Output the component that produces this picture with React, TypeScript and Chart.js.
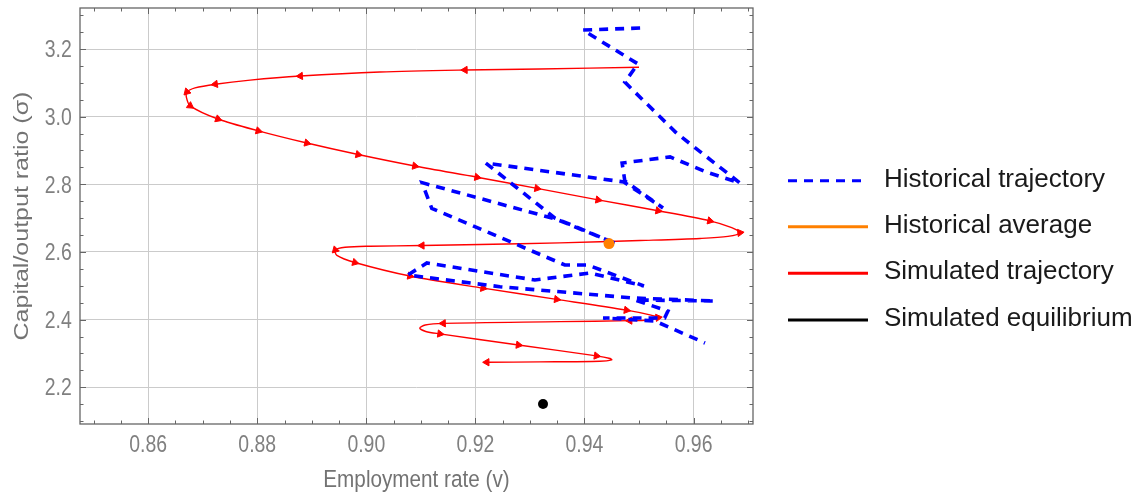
import React, { useEffect, useRef } from "react";
import { Chart, registerables } from "chart.js";

Chart.register(...registerables);

// ---------------- data ----------------
// Historical trajectory (employment rate v, capital/output ratio sigma)
const histV = [
  0.9502, 0.9397, 0.9498, 0.9474, 0.9569, 0.9685, 0.9624, 0.9557, 0.9469, 0.9474,
  0.9544, 0.9472, 0.9219, 0.9346, 0.9459, 0.9348, 0.9102, 0.9120, 0.9364, 0.9406,
  0.9509, 0.9410, 0.9309, 0.9111, 0.9076, 0.9245, 0.9489, 0.9639, 0.9492, 0.9553,
  0.9547, 0.9434, 0.9529, 0.9621,
];
const histS = [
  3.262, 3.256, 3.156, 3.102, 2.951, 2.804, 2.836, 2.881, 2.863, 2.810,
  2.730, 2.807, 2.863, 2.700, 2.624, 2.697, 2.805, 2.729, 2.5615, 2.5615,
  2.4994, 2.5378, 2.5172, 2.5674, 2.5319, 2.4973, 2.464, 2.4551, 2.4581, 2.4255,
  2.4048, 2.4048, 2.396, 2.3309,
];

// Simulated trajectory
const simV = [
  0.9500, 0.9318, 0.9181, 0.9025, 0.8879, 0.8787, 0.8723, 0.8686, 0.8671, 0.8670,
  0.8677, 0.8728, 0.8802, 0.8891, 0.8985, 0.9089, 0.9203, 0.9313, 0.9425, 0.9535,
  0.9630, 0.9670, 0.9685, 0.9663, 0.9612, 0.9502, 0.9355, 0.9208, 0.9102, 0.9007,
  0.8961, 0.8943, 0.8946, 0.8979, 0.9080, 0.9214, 0.9349, 0.9477, 0.9520, 0.9535,
  0.9516, 0.9483, 0.9355, 0.9141, 0.9108, 0.9098, 0.9109, 0.9135, 0.9279, 0.9422,
  0.9447, 0.9450, 0.9428, 0.9318, 0.9221,
];
const simS = [
  3.146, 3.141, 3.138, 3.132, 3.120, 3.108, 3.096, 3.085, 3.073, 3.058,
  3.032, 2.993, 2.958, 2.922, 2.888, 2.854, 2.821, 2.788, 2.754, 2.722,
  2.692, 2.672, 2.657, 2.646, 2.640, 2.634, 2.627, 2.622, 2.619, 2.617,
  2.614, 2.606, 2.590, 2.569, 2.529, 2.493, 2.460, 2.428, 2.414, 2.406,
  2.399, 2.397, 2.394, 2.389, 2.384, 2.375, 2.365, 2.358, 2.325, 2.293,
  2.285, 2.281, 2.277, 2.275, 2.274,
];
// arrowheads along the simulated trajectory
const simArrow = [
  0, 0, 1, 0, 1, 0, 1, 0, 1, 0,
  1, 1, 1, 1, 1, 1, 1, 1, 1, 1,
  1, 0, 1, 0, 0, 0, 0, 0, 1, 0,
  0, 1, 0, 1, 1, 1, 1, 1, 0, 1,
  0, 1, 0, 1, 0, 0, 0, 1, 1, 1,
  0, 0, 0, 0, 1,
];

const avgV = [0.9445];
const avgS = [2.625];
const eqV = [0.9324];
const eqS = [2.1506];

const xTicks = [0.86, 0.88, 0.9, 0.92, 0.94, 0.96];
const xTickLabels = ["0.86", "0.88", "0.90", "0.92", "0.94", "0.96"];
const yTicks = [2.2, 2.4, 2.6, 2.8, 3.0, 3.2];
const yTickLabels = ["2.2", "2.4", "2.6", "2.8", "3.0", "3.2"];
const xRange = [0.8475, 0.9709];
const yRange = [2.0915, 3.3212];

const xTitle = "Employment rate (v)";
const yTitle = "Capital/output ratio (\u03c3)";
const legendLabels = [
  "Historical trajectory",
  "Historical average",
  "Simulated trajectory",
  "Simulated equilibrium",
];

const BLUE = "#0000ff";
const ORANGE = "#ff8000";
const RED = "#ff0000";
const BLACK = "#000000";
const AXIS_FONT = "'Liberation Sans', Arial, sans-serif";
const SQUEEZE = 0.845;

const toPts = (xs: number[], ys: number[]) => xs.map((x, i) => ({ x, y: ys[i] }));

const framePlugin = {
  id: "mmaFrame",
  afterDatasetsDraw(chart: any) {
    const { ctx, chartArea: a, scales } = chart;
    const xs = scales.x;
    const ys = scales.y;
    ctx.save();
    ctx.strokeStyle = "#666666";
    ctx.lineWidth = 1.3;
    ctx.strokeRect(a.left, a.top, a.right - a.left, a.bottom - a.top);
    ctx.lineWidth = 1;
    ctx.beginPath();
    for (let k = 170; k <= 194; k++) {
      const v = k * 0.005;
      const px = Math.round(xs.getPixelForValue(v)) + 0.5;
      if (px < a.left + 1 || px > a.right - 1) continue;
      const major = k % 4 === 0;
      const len = major ? 6 : 3.5;
      ctx.moveTo(px, a.bottom);
      ctx.lineTo(px, a.bottom - len);
      ctx.moveTo(px, a.top);
      ctx.lineTo(px, a.top + len);
    }
    for (let k = 42; k <= 66; k++) {
      const v = k * 0.05;
      const py = Math.round(ys.getPixelForValue(v)) + 0.5;
      if (py < a.top + 1 || py > a.bottom - 1) continue;
      const major = k % 4 === 0;
      const len = major ? 6 : 3.5;
      ctx.moveTo(a.left, py);
      ctx.lineTo(a.left + len, py);
      ctx.moveTo(a.right, py);
      ctx.lineTo(a.right - len, py);
    }
    ctx.stroke();

    // tick labels and axis titles (narrow rendering, as in the reference)
    ctx.fillStyle = "#808080";
    ctx.font = `23px ${AXIS_FONT}`;
    ctx.textBaseline = "alphabetic";
    xTicks.forEach((v, i) => {
      const px = xs.getPixelForValue(v);
      ctx.save();
      ctx.translate(px, a.bottom + 27.5);
      ctx.scale(SQUEEZE, 1);
      ctx.textAlign = "center";
      ctx.fillText(xTickLabels[i], 0, 0);
      ctx.restore();
    });
    yTicks.forEach((v, i) => {
      const py = ys.getPixelForValue(v);
      ctx.save();
      ctx.translate(a.left - 8.3, py + 8.2);
      ctx.scale(SQUEEZE, 1);
      ctx.textAlign = "right";
      ctx.fillText(yTickLabels[i], 0, 0);
      ctx.restore();
    });
    ctx.fillStyle = "#737373";
    ctx.font = `24.5px ${AXIS_FONT}`;
    ctx.save();
    ctx.translate((a.left + a.right) / 2, 487);
    ctx.scale(SQUEEZE, 1);
    ctx.textAlign = "center";
    ctx.fillText(xTitle, 0, 0);
    ctx.restore();
    ctx.save();
    ctx.translate(27.5, (a.top + a.bottom) / 2);
    ctx.scale(SQUEEZE, 1);
    ctx.rotate(-Math.PI / 2);
    ctx.textAlign = "center";
    ctx.font = `25px ${AXIS_FONT}`;
    ctx.fillText(yTitle, 0, 0);
    ctx.restore();
    ctx.restore();
  },
};

export default function App() {
  const ref = useRef<HTMLCanvasElement | null>(null);

  useEffect(() => {
    document.body.style.margin = "0";
    const canvas = ref.current;
    if (!canvas) return;
    const simPts = toPts(simV, simS);
    const n = simPts.length;
    const chart = new Chart(canvas, {
      type: "scatter",
      data: {
        datasets: [
          {
            label: legendLabels[1],
            data: toPts(avgV, avgS),
            backgroundColor: ORANGE,
            borderColor: ORANGE,
            pointRadius: 5.5,
            pointBorderWidth: 0,
            order: 0,
          },
          {
            label: legendLabels[3],
            data: toPts(eqV, eqS),
            backgroundColor: BLACK,
            borderColor: BLACK,
            pointRadius: 5,
            pointBorderWidth: 0,
            order: 0,
          },
          {
            label: legendLabels[0],
            data: toPts(histV, histS),
            showLine: true,
            borderColor: BLUE,
            borderWidth: 3.6,
            borderDash: [9, 7],
            pointRadius: 0,
            tension: 0,
            order: 1,
          },
          {
            label: legendLabels[2],
            data: simPts,
            showLine: true,
            borderColor: RED,
            backgroundColor: RED,
            borderWidth: 1.4,
            tension: 0.3,
            pointStyle: "triangle",
            pointRadius: (c: any) => (simArrow[c.dataIndex] ? 4.2 : 0),
            pointHoverRadius: 0,
            pointBorderWidth: 1,
            pointRotation: (c: any) => {
              const i = c.dataIndex;
              const xs = c.chart.scales.x;
              const ys = c.chart.scales.y;
              if (!xs || !ys) return 0;
              const p0 = simPts[Math.max(i - 1, 0)];
              const p1 = simPts[Math.min(i + 1, n - 1)];
              const dx = xs.getPixelForValue(p1.x) - xs.getPixelForValue(p0.x);
              const dy = ys.getPixelForValue(p1.y) - ys.getPixelForValue(p0.y);
              return (Math.atan2(dy, dx) * 180) / Math.PI + 90;
            },
            order: 2,
          },
        ],
      },
      options: {
        animation: false,
        responsive: false,
        devicePixelRatio: 1,
        layout: { padding: { left: 0, top: 8, right: 388, bottom: 0 } },
        plugins: {
          legend: { display: false },
          tooltip: { enabled: false },
        },
        events: [],
        scales: {
          x: {
            type: "linear",
            min: xRange[0],
            max: xRange[1],
            afterFit: (s: any) => {
              s.height = 74;
              s.paddingLeft = 0;
              s.paddingRight = 0;
            },
            afterBuildTicks: (s: any) => {
              s.ticks = xTicks.map((v) => ({ value: v }));
            },
            grid: { color: "#cbcbcb", lineWidth: 1, drawTicks: false },
            border: { display: false },
            ticks: { display: false },
            title: { display: false },
          },
          y: {
            type: "linear",
            min: yRange[0],
            max: yRange[1],
            afterFit: (s: any) => {
              s.width = 80;
              s.paddingTop = 0;
              s.paddingBottom = 0;
            },
            afterBuildTicks: (s: any) => {
              s.ticks = yTicks.map((v) => ({ value: v }));
            },
            grid: { color: "#cbcbcb", lineWidth: 1, drawTicks: false },
            border: { display: false },
            ticks: { display: false },
            title: { display: false },
          },
        },
      },
      plugins: [framePlugin],
    });
    return () => chart.destroy();
  }, []);

  const rows = [
    { label: legendLabels[0], color: BLUE, dash: "9 7", y: 180.7 },
    { label: legendLabels[1], color: ORANGE, dash: "", y: 226.7 },
    { label: legendLabels[2], color: RED, dash: "", y: 273.3 },
    { label: legendLabels[3], color: BLACK, dash: "", y: 320 },
  ];

  return (
    <div style={{ position: "relative", width: 1141, height: 498, background: "#fff" }}>
      <canvas ref={ref} width={1141} height={498} style={{ position: "absolute", left: 0, top: 0 }} />
      <svg
        width={1141}
        height={498}
        style={{ position: "absolute", left: 0, top: 0, pointerEvents: "none" }}
      >
        {rows.map((r) => (
          <line
            key={r.label}
            x1={788}
            x2={868}
            y1={r.y}
            y2={r.y}
            stroke={r.color}
            strokeWidth={3}
            strokeDasharray={r.dash || undefined}
          />
        ))}
      </svg>
      {rows.map((r) => (
        <div
          key={r.label + "t"}
          style={{
            position: "absolute",
            left: 884,
            top: r.y + 6 - 22,
            fontFamily: "'Liberation Sans', Arial, sans-serif",
            fontSize: 26,
            lineHeight: "26px",
            color: "#1a1a1a",
            whiteSpace: "nowrap",
          }}
        >
          {r.label}
        </div>
      ))}
    </div>
  );
}
